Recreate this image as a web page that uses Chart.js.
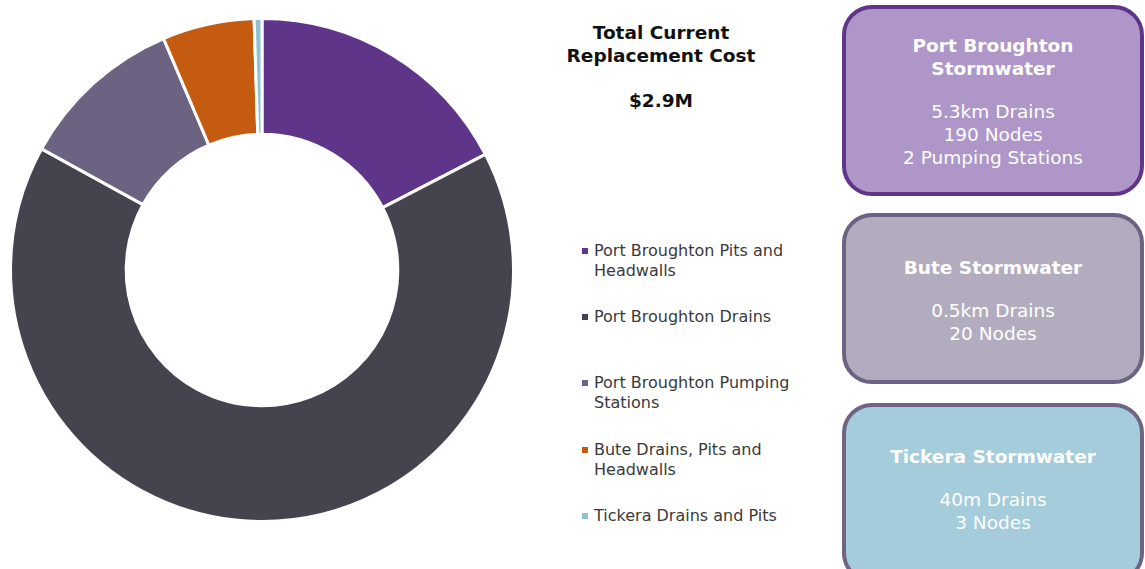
<!DOCTYPE html>
<html>
<head>
<meta charset="utf-8">
<script src="https://cdn.jsdelivr.net/npm/chart.js@4/dist/chart.umd.min.js"></script>
<style>
  html, body { margin: 0; padding: 0; background: #fff; }
  body { width: 1145px; height: 569px; position: relative; overflow: hidden; font-family: "DejaVu Sans", Verdana, sans-serif; }
  #chartWrap { position: absolute; left: 0; top: 8px; width: 524px; height: 524px; }
  #title { position: absolute; left: 550px; top: 21px; width: 222px; text-align: center; font-weight: bold; font-size: 18.5px; line-height: 23px; color: #111; }
  #title .total { margin-top: 22px; }
  #legend { position: absolute; left: 582px; top: 0; }
  .item { position: absolute; left: 0; width: 250px; font-size: 16px; line-height: 20px; color: #3a3a3a; padding-left: 12px; white-space: nowrap; }
  .item .swatch { position: absolute; left: 0; top: 7px; width: 6px; height: 6px; }
  .box { position: absolute; left: 842px; width: 302px; border: 4px solid; border-radius: 30px; color: #fff; text-align: center; font-size: 18.5px; line-height: 23px; box-sizing: border-box; }
  .box b { display: block; margin-bottom: 20px; }
</style>
</head>
<body>
<div id="chartWrap"><canvas id="myChart"></canvas></div>
<div id="title">Total Current<br>Replacement Cost<div class="total">$2.9M</div></div>
<div id="legend"></div>
<div id="boxes"></div>
<script>
// share of total current replacement cost, %
const categories = [
  ['Port Broughton Pits and', 'Headwalls'],
  ['Port Broughton Drains'],
  ['Port Broughton Pumping', 'Stations'],
  ['Bute Drains, Pits and', 'Headwalls'],
  ['Tickera Drains and Pits']
];
const shares = [17.4, 65.6, 10.6, 5.9, 0.5];
const colors = ['#5E3589', '#45434E', '#6C6281', '#C55A11', '#8FC3D2'];
const legendTops = [241, 307, 373, 440, 506];

// network summary panels
const panelTitles = [['Port Broughton', 'Stormwater'], ['Bute Stormwater'], ['Tickera Stormwater']];
const panelLines = [
  ['5.3km Drains', '190 Nodes', '2 Pumping Stations'],
  ['0.5km Drains', '20 Nodes'],
  ['40m Drains', '3 Nodes']
];
const panelFill = ['#AE96C8', '#B3ACBE', '#A4CCDA'];
const panelBorder = ['#5E3589', '#6C6281', '#6E6584'];
const panelTops = [5, 213, 403];
const panelHeights = [191, 171, 180];
const panelPad = [25, 39, 38];

const legend = document.getElementById('legend');
categories.forEach((lines, i) => {
  const d = document.createElement('div');
  d.className = 'item';
  d.style.top = legendTops[i] + 'px';
  d.innerHTML = '<span class="swatch" style="background:' + colors[i] + '"></span>' + lines.join('<br>');
  legend.appendChild(d);
});

const boxes = document.getElementById('boxes');
panelTitles.forEach((t, i) => {
  const b = document.createElement('div');
  b.className = 'box';
  b.style.top = panelTops[i] + 'px';
  b.style.height = panelHeights[i] + 'px';
  b.style.paddingTop = panelPad[i] + 'px';
  b.style.background = panelFill[i];
  b.style.borderColor = panelBorder[i];
  b.innerHTML = '<b>' + t.join('<br>') + '</b>' + panelLines[i].join('<br>');
  boxes.appendChild(b);
});

const ctx = document.getElementById('myChart');
new Chart(ctx, {
  type: 'doughnut',
  data: {
    labels: categories.map(c => c.join(' ')),
    datasets: [{
      data: shares,
      backgroundColor: colors,
      borderColor: '#fff',
      borderWidth: 3,
      hoverBorderWidth: 3
    }]
  },
  options: {
    responsive: true,
    maintainAspectRatio: false,
    animation: false,
    cutout: '54%',
    layout: { padding: 9 },
    plugins: {
      legend: { display: false },
      tooltip: { enabled: false }
    }
  }
});
</script>
</body>
</html>
